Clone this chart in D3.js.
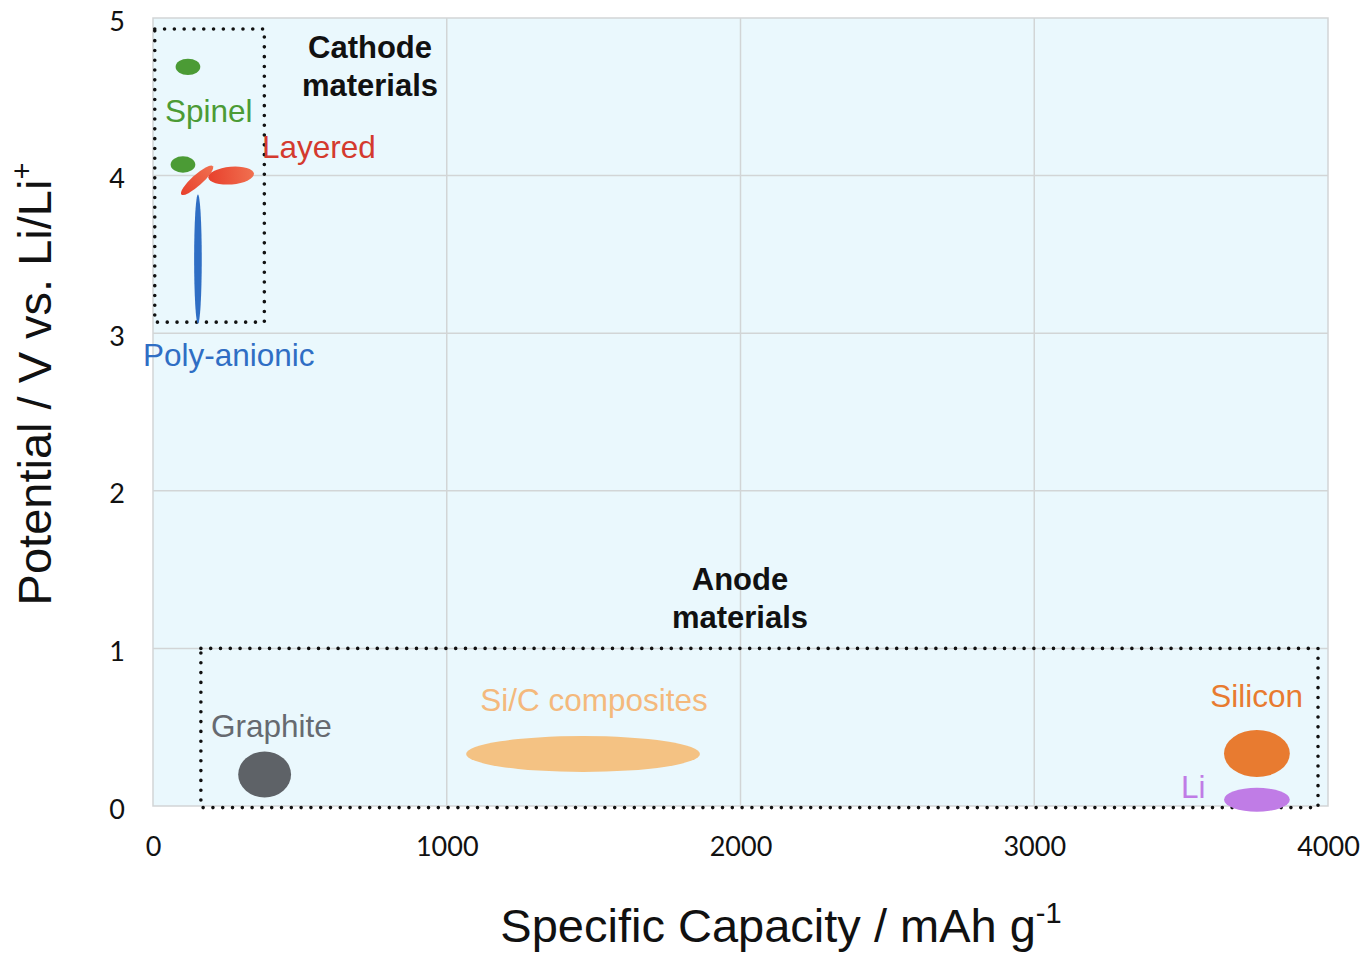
<!DOCTYPE html>
<html>
<head>
<meta charset="utf-8">
<script src="https://cdn.jsdelivr.net/npm/d3@7"></script>
<style>
  body { margin: 0; background: #fff; }
  svg { display: block; font-family: "Liberation Sans", Arial, sans-serif; }
  .tick text { font-family: "Lato", "Open Sans", sans-serif; }
</style>
</head>
<body>
<svg id="chart"></svg>
<script>
/* ------------ DATA ---------------------------------------------------- */
const xTicks = [0, 1000, 2000, 3000, 4000];
const yTicks = [0, 1, 2, 3, 4, 5];

// material regions: capacity (mAh/g), potential (V), half-widths, tilt
const regionNames = ['Spinel', 'Spinel', 'Layered', 'Layered', 'Poly-anionic', 'Graphite', 'Si/C composites', 'Silicon', 'Li'];
const regionCap   = [119, 102, 150, 266, 153, 380, 1464, 3758, 3758];
const regionPot   = [4.69, 4.07, 3.97, 4.00, 3.47, 0.20, 0.33, 0.333, 0.04];
const regionRx    = [42, 42, 72, 78, 13, 90, 398, 112, 112];
const regionRy    = [0.052, 0.052, 0.034, 0.056, 0.41, 0.146, 0.114, 0.149, 0.076];
const regionTilt  = [0, 0, -42, -5, 0, 0, 0, 0, 0];

// boxes around material groups: [x0, x1, y0, y1]
const boxCathode = [6, 379, 3.07, 4.93];
const boxAnode   = [163, 3966, -0.01, 1.0];

/* ------------ STYLE --------------------------------------------------- */
const W = 1365, H = 953;
const M = { left: 153, right: 1328, top: 18, bottom: 806 };

const fills = {
  'Spinel': '#4b9b35',
  'Layered': 'url(#layGrad)',
  'Poly-anionic': '#2f6ec4',
  'Graphite': '#5e6267',
  'Si/C composites': '#f4c283',
  'Silicon': '#e87b30',
  'Li': '#c07ce6'
};

const svg = d3.select('#chart').attr('width', W).attr('height', H);

const x = d3.scaleLinear().domain([0, 4000]).range([M.left, M.right]);
const y = d3.scaleLinear().domain([0, 5]).range([M.bottom, M.top]);

const defs = svg.append('defs');
const lg = defs.append('linearGradient').attr('id', 'layGrad')
  .attr('x1', '0%').attr('y1', '0%').attr('x2', '100%').attr('y2', '0%');
lg.append('stop').attr('offset', '0%').attr('stop-color', '#e8402c');
lg.append('stop').attr('offset', '100%').attr('stop-color', '#f07050');

/* ------------ PLOT AREA ---------------------------------------------- */
svg.append('rect')
  .attr('x', M.left).attr('y', M.top)
  .attr('width', M.right - M.left).attr('height', M.bottom - M.top)
  .attr('fill', '#eaf8fd').attr('stroke', '#d2d5d6').attr('stroke-width', 1.5);

const grid = svg.append('g');
grid.selectAll('line.v').data(xTicks.slice(1, -1)).join('line')
  .attr('x1', d => x(d)).attr('x2', d => x(d))
  .attr('y1', M.top).attr('y2', M.bottom)
  .attr('stroke', '#d2d5d6').attr('stroke-width', 1.5);
grid.selectAll('line.h').data(yTicks.slice(1, -1)).join('line')
  .attr('x1', M.left).attr('x2', M.right)
  .attr('y1', d => y(d)).attr('y2', d => y(d))
  .attr('stroke', '#d2d5d6').attr('stroke-width', 1.5);

/* ------------ AXES --------------------------------------------------- */
const xAxis = svg.append('g')
  .attr('transform', `translate(0,${M.bottom})`)
  .call(d3.axisBottom(x).tickValues(xTicks).tickFormat(d3.format('d')).tickSize(0).tickPadding(31));
const yAxis = svg.append('g')
  .attr('transform', `translate(${M.left},0)`)
  .call(d3.axisLeft(y).tickValues(yTicks).tickFormat(d3.format('d')).tickSize(0));
[xAxis, yAxis].forEach(a => {
  a.select('.domain').remove();
  a.selectAll('text').attr('font-size', 27).attr('fill', '#111');
});
yAxis.selectAll('text').attr('text-anchor', 'middle').attr('x', -36).attr('dy', '0.45em');

svg.append('text')
  .attr('x', 781).attr('y', 942)
  .attr('text-anchor', 'middle').attr('font-size', 47).attr('fill', '#111')
  .text('Specific Capacity / mAh g')
  .append('tspan').attr('font-size', 29).attr('dy', -19).text('-1');

svg.append('text')
  .attr('transform', 'translate(51,384) rotate(-90)')
  .attr('text-anchor', 'middle').attr('font-size', 47).attr('fill', '#111')
  .text('Potential / V vs. Li/Li')
  .append('tspan').attr('font-size', 29).attr('dy', -19).text('+');

/* ------------ GROUP BOXES -------------------------------------------- */
[boxCathode, boxAnode].forEach(b => {
  svg.append('rect')
    .attr('x', x(b[0])).attr('y', y(b[3]))
    .attr('width', x(b[1]) - x(b[0])).attr('height', y(b[2]) - y(b[3]))
    .attr('fill', 'none').attr('stroke', '#111').attr('stroke-width', 3.6)
    .attr('stroke-linecap', 'round').attr('stroke-dasharray', '0,9.8');
});

/* ------------ REGIONS ------------------------------------------------ */
const pxPerCap = x(1) - x(0), pxPerV = y(0) - y(1);
svg.append('g').selectAll('ellipse')
  .data(regionNames.map((n, i) => ({ n, i })))
  .join('ellipse')
  .attr('transform', d => `translate(${x(regionCap[d.i])},${y(regionPot[d.i])}) rotate(${regionTilt[d.i]})`)
  .attr('rx', d => regionRx[d.i] * pxPerCap)
  .attr('ry', d => regionRy[d.i] * pxPerV)
  .attr('fill', d => fills[d.n]);

/* ------------ LABELS ------------------------------------------------- */
const labels = [
  { t: 'Spinel', x: 165, y: 122, c: '#4b9b35', a: 'start' },
  { t: 'Layered', x: 262, y: 158, c: '#d43a2e', a: 'start' },
  { t: 'Poly-anionic', x: 143, y: 366, c: '#2f6ec4', a: 'start' },
  { t: 'Graphite', x: 211, y: 737, c: '#666a70', a: 'start' },
  { t: 'Si/C composites', x: 594, y: 711, c: '#f4b97c', a: 'middle' },
  { t: 'Silicon', x: 1303, y: 707, c: '#e87b30', a: 'end' },
  { t: 'Li', x: 1181, y: 798, c: '#c07ce6', a: 'start' }
];
svg.append('g').selectAll('text').data(labels).join('text')
  .attr('x', d => d.x).attr('y', d => d.y)
  .attr('text-anchor', d => d.a).attr('fill', d => d.c)
  .attr('font-size', 31.5).text(d => d.t);

const heads = [
  { t: ['Cathode', 'materials'], x: 370, y: 58 },
  { t: ['Anode', 'materials'], x: 740, y: 590 }
];
heads.forEach(h => {
  const t = svg.append('text').attr('x', h.x).attr('y', h.y)
    .attr('text-anchor', 'middle').attr('font-size', 31)
    .attr('font-weight', 'bold').attr('fill', '#111');
  h.t.forEach((s, i) => t.append('tspan').attr('x', h.x).attr('dy', i ? 38 : 0).text(s));
});
</script>
</body>
</html>
